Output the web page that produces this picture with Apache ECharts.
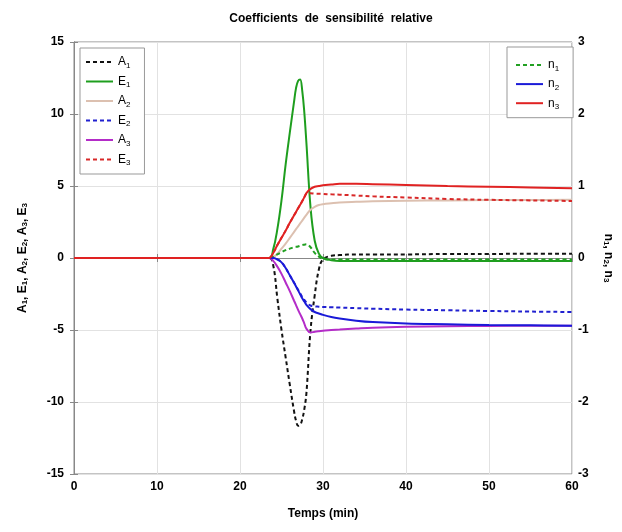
<!DOCTYPE html>
<html><head><meta charset="utf-8">
<script src="https://cdn.jsdelivr.net/npm/echarts@6/dist/echarts.min.js"></script>
<style>html,body{margin:0;padding:0;background:#fff}#c{width:622px;height:532px}</style>
</head><body><div id="c"></div>
<script>
var time = [0, 23.5, 24, 24.5, 25, 25.5, 26, 26.5, 26.75, 27, 27.25, 27.5, 27.75, 28, 28.5, 29, 29.5, 30, 31, 32, 34, 36, 40, 45, 50, 55, 60];
var A1 = [0, 0, -0.5, -2.8, -5.0, -6.9, -8.8, -10.6, -11.3, -11.65, -11.6, -11.2, -10.5, -9.4, -5.0, -2.6, -0.8, -0.1, 0.15, 0.2, 0.25, 0.25, 0.25, 0.28, 0.28, 0.3, 0.3];
var E1 = [0, 0, 0.6, 2.0, 4.0, 6.5, 8.7, 10.8, 11.8, 12.3, 12.4, 11.6, 10.1, 8.0, 3.5, 1.2, 0.3, 0.0, -0.15, -0.2, -0.2, -0.2, -0.2, -0.2, -0.2, -0.2, -0.2];
var A2 = [0, 0, 0.05, 0.3, 0.65, 1.0, 1.4, 1.8, 2.0, 2.2, 2.4, 2.6, 2.8, 3.0, 3.35, 3.55, 3.68, 3.74, 3.8, 3.85, 3.9, 3.94, 3.98, 4.0, 4.02, 4.03, 4.04];
var E2 = [0, 0, 0, -0.1, -0.3, -0.7, -1.2, -1.7, -1.95, -2.2, -2.45, -2.7, -2.9, -3.1, -3.3, -3.36, -3.38, -3.4, -3.42, -3.44, -3.48, -3.52, -3.58, -3.63, -3.68, -3.72, -3.75];
var A3 = [0, 0, -0.2, -0.6, -1.1, -1.7, -2.3, -2.95, -3.27, -3.6, -3.9, -4.2, -4.55, -4.9, -5.18, -5.12, -5.08, -5.05, -5.0, -4.97, -4.9, -4.84, -4.78, -4.74, -4.72, -4.7, -4.7];
var E3 = [0, 0, 0.35, 0.9, 1.4, 1.9, 2.45, 2.95, 3.2, 3.45, 3.7, 3.95, 4.2, 4.45, 4.5, 4.47, 4.46, 4.45, 4.42, 4.4, 4.34, 4.28, 4.2, 4.1, 4.04, 4.0, 3.96];
var n1 = [0, 0, 0.02, 0.05, 0.08, 0.11, 0.13, 0.15, 0.155, 0.16, 0.17, 0.18, 0.185, 0.19, 0.15, 0.07, 0.02, -0.01, -0.02, -0.02, -0.02, -0.02, -0.02, -0.02, -0.02, -0.02, -0.02];
var n2 = [0, 0, 0, -0.02, -0.06, -0.14, -0.24, -0.34, -0.395, -0.45, -0.505, -0.56, -0.605, -0.65, -0.71, -0.75, -0.77, -0.79, -0.82, -0.84, -0.87, -0.89, -0.91, -0.92, -0.93, -0.935, -0.94];
var n3 = [0, 0, 0.07, 0.18, 0.28, 0.38, 0.49, 0.59, 0.64, 0.69, 0.74, 0.79, 0.845, 0.9, 0.96, 0.99, 1.0, 1.01, 1.02, 1.03, 1.03, 1.025, 1.015, 1.0, 0.99, 0.98, 0.97];
var xTicks = [0, 10, 20, 30, 40, 50, 60];
var leftTicks = [-15, -10, -5, 0, 5, 10, 15];
var rightTicks = [-3, -2, -1, 0, 1, 2, 3];
var title = 'Coefficients  de  sensibilité  relative';
var xName = 'Temps (min)';

var FONT = 'Liberation Sans, Arial, sans-serif';
function pairs(v){ return time.map(function(t,i){ return [t, v[i]]; }); }
function mk(name, vals, color, dashed, axis){
  return {name:name, type:'line', yAxisIndex:axis, data:pairs(vals), smooth:0.4, symbol:'none', showSymbol:false,
    lineStyle:{color:color, width:2, type: dashed ? [4,3] : 'solid'}, itemStyle:{color:color}, z: 2};
}
var series = [
  mk('A1', A1, '#111111', true, 0),
  mk('E1', E1, '#1e9e1e', false, 0),
  mk('A2', A2, '#dcc0b0', false, 0),
  mk('E2', E2, '#2020d0', true, 0),
  mk('A3', A3, '#b42cc8', false, 0),
  mk('E3', E3, '#d82828', true, 0),
  mk('n1', n1, '#22a022', true, 1),
  mk('n2', n2, '#1a1ad8', false, 1),
  mk('n3', n3, '#e02222', false, 1)
];
var subFmt = function(name){ return name.charAt(0) + '{s|' + name.slice(1) + '}'; };
var legText = {fontFamily: FONT, fontSize: 12, color:'#000', rich:{s:{fontSize:8, fontFamily:FONT, padding:[7,0,0,0], color:'#000'}}};
var nameRich = {s:{fontSize:8, fontWeight:'bold', fontFamily:FONT, verticalAlign:'bottom', color:'#000'}};
var chart = echarts.init(document.getElementById('c'), null, {renderer:'canvas'});
chart.setOption({
  animation:false,
  backgroundColor:'#fff',
  title:{text:title, left:326, textAlign:'center', top:8, textStyle:{fontFamily:FONT, fontSize:12, fontWeight:'bold', color:'#000'}},
  grid:{left:74, right:45, top:42, bottom:58, show:true, borderColor:'#888', borderWidth:1, backgroundColor:'transparent'},
  legend:[
    {id:'legL', data:['A1','E1','A2','E2','A3','E3'], orient:'vertical', left:80, top:48, itemWidth:27, itemHeight:14, itemGap:6,
     padding:[8,14,7,5], backgroundColor:'#fff', borderColor:'#999', borderWidth:1, borderRadius:0,
     formatter:subFmt, textStyle:legText, selectedMode:false,
     itemStyle:{color:'transparent', borderWidth:0, opacity:0}},
    {id:'legR', data:['n1','n2','n3'], orient:'vertical', left:507, top:47, itemWidth:27, itemHeight:14, itemGap:5.6,
     padding:[12,14,7,8], backgroundColor:'#fff', borderColor:'#999', borderWidth:1, borderRadius:0,
     formatter:subFmt, textStyle:legText, selectedMode:false,
     itemStyle:{color:'transparent', borderWidth:0, opacity:0}}
  ],
  xAxis:[{type:'value', min:0, max:60, interval:10, name:xName, nameLocation:'middle', nameGap:34,
    nameTextStyle:{fontFamily:FONT, fontSize:12, fontWeight:'bold', color:'#000'},
    axisLine:{show:true, lineStyle:{color:'#888'}}, axisTick:{show:true, inside:true, length:4, lineStyle:{color:'#888'}},
    axisLabel:{fontFamily:FONT, fontSize:12, fontWeight:'bold', color:'#000', margin:7},
    splitLine:{show:true, lineStyle:{color:'#e2e2e2', width:1}}},
   {type:'value', position:'top', min:0, max:60, interval:10, axisLine:{show:false}, axisLabel:{show:false},
    axisTick:{show:true, inside:true, length:4, lineStyle:{color:'#888'}}, splitLine:{show:false}}],
  yAxis:[
    {type:'value', min:-15, max:15, interval:5, position:'left',
     name:'A{s|1}, E{s|1}, A{s|2}, E{s|2}, A{s|3}, E{s|3}', nameLocation:'middle', nameRotate:90, nameGap:45,
     nameTextStyle:{fontFamily:FONT, fontSize:12, fontWeight:'bold', color:'#000', rich:nameRich},
     axisLine:{show:true, lineStyle:{color:'#888'}}, axisTick:{show:true, inside:true, length:4, lineStyle:{color:'#888'}},
     axisLabel:{fontFamily:FONT, fontSize:12, fontWeight:'bold', color:'#000', margin:10},
     splitLine:{show:true, lineStyle:{color:'#e2e2e2', width:1}}},
    {type:'value', min:-3, max:3, interval:1, position:'right',
     name:'n{s|1}, n{s|2}, n{s|3}', nameLocation:'middle', nameRotate:-90, nameGap:30,
     nameTextStyle:{fontFamily:FONT, fontSize:12, fontWeight:'bold', color:'#000', rich:nameRich},
     axisLine:{show:true, lineStyle:{color:'#888'}}, axisTick:{show:true, inside:true, length:4, lineStyle:{color:'#888'}},
     axisLabel:{fontFamily:FONT, fontSize:12, fontWeight:'bold', color:'#000', margin:6},
     splitLine:{show:false}}
  ],
  series:series
});
</script></body></html>
